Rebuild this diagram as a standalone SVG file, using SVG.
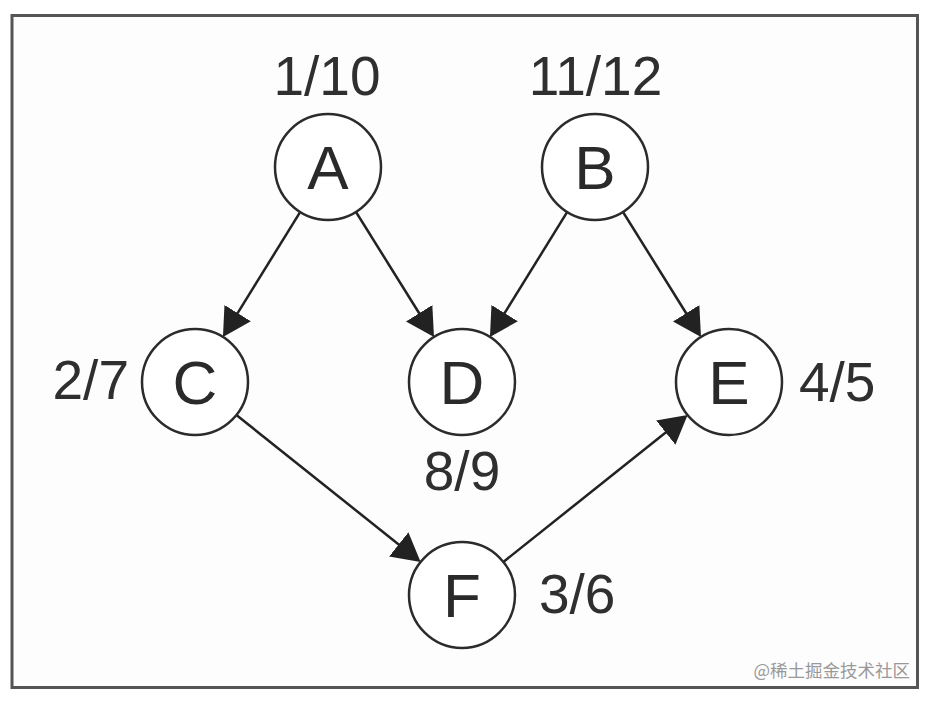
<svg xmlns="http://www.w3.org/2000/svg" width="932" height="702" viewBox="0 0 932 702">
<defs>
<style>
.node circle{fill:#fff;stroke:#2b2b2b;stroke-width:2.5}
.ltr{font-family:"Liberation Sans",Arial,sans-serif;font-size:62px;fill:#2a2a2a;text-anchor:middle}
.lbl{font-family:"Liberation Sans",Arial,sans-serif;font-size:55px;fill:#2f2f2f}
.mid{text-anchor:middle}
.end{text-anchor:end}
.start{text-anchor:start}
.edge{stroke:#222;stroke-width:2.5;fill:none;marker-end:url(#arrow)}
</style>
<marker id="arrow" markerUnits="userSpaceOnUse" markerWidth="30" markerHeight="32" refX="18" refY="15.5" orient="auto">
<path d="M0,0 L28,15.5 L0,31 Z" fill="#222"/>
</marker>
</defs>
<rect x="0" y="0" width="932" height="702" fill="#fff"/>
<rect x="12" y="15.5" width="905.5" height="672" fill="#fdfdfd" stroke="#555" stroke-width="3"/>
<g id="connectors">
<line class="edge" x1="300.1" y1="212.1" x2="228.2" y2="328.4"/>
<line class="edge" x1="356.0" y1="212.0" x2="428.7" y2="328.5"/>
<line class="edge" x1="567.1" y1="212.1" x2="495.2" y2="328.4"/>
<line class="edge" x1="623.0" y1="212.0" x2="695.7" y2="328.5"/>
<line class="edge" x1="236.4" y1="415.1" x2="412.8" y2="555.7"/>
<line class="edge" x1="503.4" y1="561.9" x2="679.8" y2="421.3"/>
</g>
<g id="node-A" class="node"><circle cx="328" cy="167" r="53"/><text class="ltr" x="328" y="189">A</text><text class="lbl mid" x="327" y="95">1/10</text></g>
<g id="node-B" class="node"><circle cx="595" cy="167" r="53"/><text class="ltr" x="595" y="189">B</text><text class="lbl mid" x="595.5" y="95">11/12</text></g>
<g id="node-C" class="node"><circle cx="195" cy="382" r="53"/><text class="ltr" x="195" y="404">C</text><text class="lbl end" x="129" y="399">2/7</text></g>
<g id="node-D" class="node"><circle cx="462" cy="382" r="53"/><text class="ltr" x="462" y="404">D</text><text class="lbl mid" x="462" y="490">8/9</text></g>
<g id="node-E" class="node"><circle cx="729" cy="382" r="53"/><text class="ltr" x="729" y="404">E</text><text class="lbl start" x="799" y="401">4/5</text></g>
<g id="node-F" class="node"><circle cx="462" cy="595" r="53"/><text class="ltr" x="462" y="617">F</text><text class="lbl start" x="539" y="613">3/6</text></g>
<text x="910" y="677" text-anchor="end" font-family="'Noto Sans CJK SC',sans-serif" font-size="17.5" fill="#999">@稀土掘金技术社区</text>
</svg>
